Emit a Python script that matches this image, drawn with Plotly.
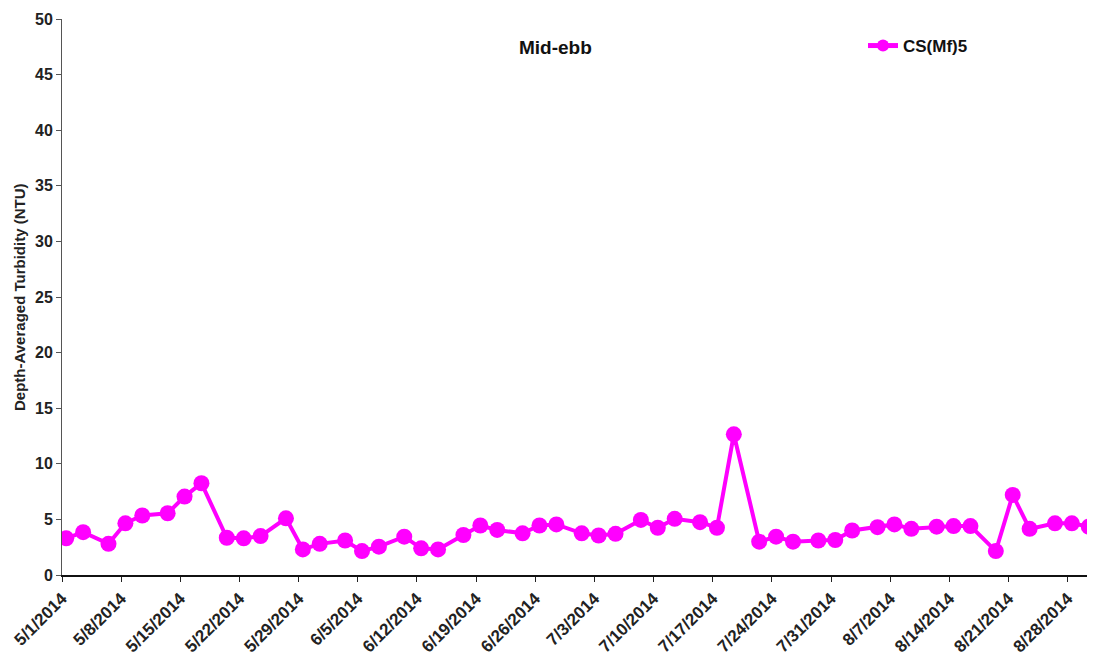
import pandas as pd
import plotly.graph_objects as go

dates = ["2014-05-01", "2014-05-03", "2014-05-06", "2014-05-08", "2014-05-10", "2014-05-13",
         "2014-05-15", "2014-05-17", "2014-05-20", "2014-05-22", "2014-05-24", "2014-05-27",
         "2014-05-29", "2014-05-31", "2014-06-03", "2014-06-05", "2014-06-07", "2014-06-10",
         "2014-06-12", "2014-06-14", "2014-06-17", "2014-06-19", "2014-06-21", "2014-06-24",
         "2014-06-26", "2014-06-28", "2014-07-01", "2014-07-03", "2014-07-05", "2014-07-08",
         "2014-07-10", "2014-07-12", "2014-07-15", "2014-07-17", "2014-07-19", "2014-07-22",
         "2014-07-24", "2014-07-26", "2014-07-29", "2014-07-31", "2014-08-02", "2014-08-05",
         "2014-08-07", "2014-08-09", "2014-08-12", "2014-08-14", "2014-08-16", "2014-08-19",
         "2014-08-21", "2014-08-23", "2014-08-26", "2014-08-28", "2014-08-30"]
turbidity = [3.3, 3.85, 2.8, 4.65, 5.35, 5.55, 7.05, 8.25, 3.35, 3.3, 3.5, 5.1,
             2.3, 2.8, 3.1, 2.15, 2.55, 3.45, 2.4, 2.3, 3.6, 4.45, 4.05, 3.75,
             4.45, 4.55, 3.75, 3.55, 3.7, 4.95, 4.25, 5.05, 4.75, 4.25, 12.65, 3.0,
             3.45, 3.0, 3.1, 3.15, 4.0, 4.3, 4.55, 4.15, 4.35, 4.4, 4.4, 2.15,
             7.2, 4.15, 4.65, 4.65, 4.35]
series_name = "CS(Mf)5"
chart_title = "Mid-ebb"
y_title = "Depth-Averaged Turbidity (NTU)"
x_range = ["2014-05-01", "2014-08-31"]
y_ticks = list(range(0, 55, 5))

FONT = "Liberation Sans, Arial, sans-serif"
# the page body adds an 8px margin, so the figure is sized to fit the window
OFF = 8
W, H = 1095 - OFF, 655 - OFF
ML, MT = 62 - OFF, 19 - OFF
PLOT_R, PLOT_B = 1093 - OFF, 575 - OFF
MR, MB = W - PLOT_R, H - PLOT_B
PW, PH = W - ML - MR, H - MT - MB


def px_x(x):
    return (x - OFF - ML) / PW


def px_y(y):
    return (PLOT_B - (y - OFF)) / PH


# Excel date axis plots each day's value in the middle of the day slot
x_vals = pd.to_datetime(dates) + pd.Timedelta(hours=12)

fig = go.Figure()
fig.add_trace(go.Scatter(
    x=x_vals, y=turbidity, mode="lines+markers", name="<b>" + series_name + "</b>",
    line=dict(color="#FF00FF", width=4),
    marker=dict(color="#FF00FF", size=16),
))

fig.update_layout(
    width=W, height=H,
    margin=dict(l=ML, r=MR, t=MT, b=MB, autoexpand=False),
    paper_bgcolor="white", plot_bgcolor="white",
    font=dict(family=FONT, color="#222"),
    showlegend=True,
    legend=dict(x=px_x(863), y=px_y(28), xanchor="left", yanchor="top",
                bgcolor="rgba(0,0,0,0)", itemsizing="constant",
                font=dict(size=17, color="#111", family=FONT),
                itemwidth=30),
    annotations=[
        dict(text="<b>" + chart_title + "</b>", x=px_x(555), y=px_y(47),
             xref="paper", yref="paper", xanchor="center", yanchor="middle",
             showarrow=False, font=dict(size=19, color="#111", family=FONT)),
        dict(text="<b>" + y_title + "</b>", x=px_x(19), y=px_y(297),
             xref="paper", yref="paper", xanchor="center", yanchor="middle", textangle=-90,
             showarrow=False, font=dict(size=15, color="#222", family=FONT)),
    ],
)

fig.update_xaxes(
    type="date", range=x_range, tick0="2014-05-01", dtick=7 * 86400000,
    tickformat="%-m/%-d/%Y", tickangle=-45, ticks="outside", ticklen=5, tickcolor="#222",
    showline=True, linecolor="#111", linewidth=2, showgrid=False, zeroline=False,
    automargin=False,
    tickfont=dict(size=17, color="#222", family=FONT, weight="bold"),
)
fig.update_yaxes(
    range=[0, 50], tickvals=y_ticks, ticks="outside", ticklen=5, tickcolor="#555",
    showline=True, linecolor="#555", linewidth=1, showgrid=False, zeroline=False,
    automargin=False,
    tickfont=dict(size=16, color="#222", family=FONT, weight="bold"),
)

fig.write_html("out.html")
